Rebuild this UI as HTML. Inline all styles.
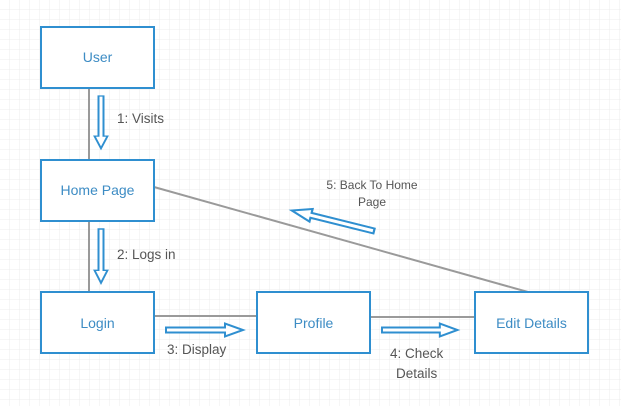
<!DOCTYPE html>
<html><head><style>
html,body{margin:0;padding:0;background:#fff;}
svg{display:block;font-family:"Liberation Sans",sans-serif;}
</style></head><body>
<svg width="621" height="406" xmlns="http://www.w3.org/2000/svg">
<defs>
<pattern id="g" width="10" height="10" patternUnits="userSpaceOnUse">
<path d="M10 0V10H0" fill="none" stroke="#ececec" stroke-width="1"/>
</pattern>
<polygon id="ar" points="0,-2.5 59,-2.5 59,-6.5 77,0 59,6.5 59,2.5 0,2.5" fill="#fff" stroke="#2f8fd0" stroke-width="2"/>
</defs>
<rect width="621" height="406" fill="url(#g)"/>
<g stroke="#9a9a9a" stroke-width="2" fill="none">
<line x1="89" y1="88" x2="89" y2="160"/>
<line x1="89" y1="221" x2="89" y2="292"/>
<line x1="154" y1="316" x2="257" y2="316"/>
<line x1="370" y1="317" x2="475" y2="317"/>
<line x1="154" y1="187" x2="528" y2="292"/>
</g>
<g fill="#fff" stroke="#2f8fd0" stroke-width="2">
<rect x="41" y="27" width="113" height="61"/>
<rect x="41" y="160" width="113" height="61"/>
<rect x="41" y="292" width="113" height="61"/>
<rect x="257" y="292" width="113" height="61"/>
<rect x="475" y="292" width="113" height="61"/>
</g>
<g fill="#3d8cc4" font-size="14" text-anchor="middle">
<text x="97.5" y="62">User</text>
<text x="97.5" y="195">Home Page</text>
<text x="97.5" y="328">Login</text>
<text x="313.5" y="328">Profile</text>
<text x="531.5" y="328">Edit Details</text>
</g>
<use href="#ar" transform="translate(101,96) rotate(90) scale(0.68,1)"/>
<use href="#ar" transform="translate(101,229) rotate(90) scale(0.7,1)"/>
<use href="#ar" transform="translate(166,330)"/>
<use href="#ar" transform="translate(382,330) scale(0.98,1)"/>
<use href="#ar" transform="translate(374,231) rotate(194) scale(1.1,1)"/>
<g fill="#555" font-size="13.5">
<text x="117" y="123">1: Visits</text>
<text x="117" y="259">2: Logs in</text>
<text x="167" y="354">3: Display</text>
<text x="390" y="358">4: Check</text>
<text x="396" y="378">Details</text>
</g>
<g fill="#555" font-size="12" text-anchor="middle">
<text x="372" y="189">5: Back To Home</text>
<text x="372" y="206">Page</text>
</g>
</svg>
</body></html>
